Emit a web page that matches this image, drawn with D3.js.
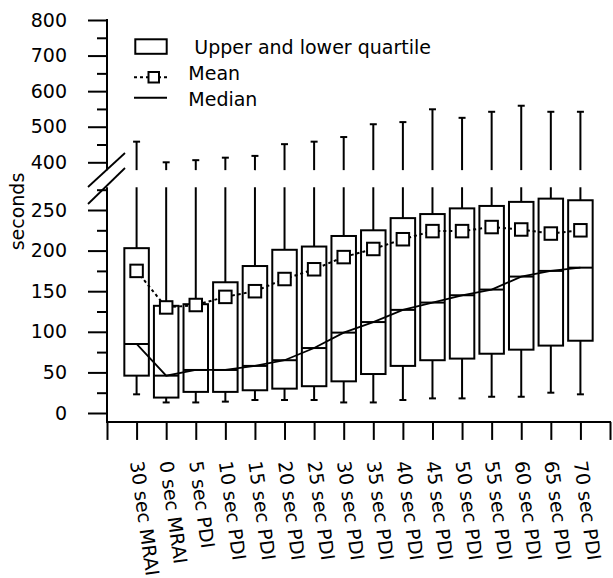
<!DOCTYPE html>
<html>
<head>
<meta charset="utf-8">
<script src="https://cdn.jsdelivr.net/npm/d3@7"></script>
<style>
  body { margin: 0; background: #fff; }
  text { font-family: "DejaVu Sans", sans-serif; font-size: 19px; fill: #000; }
</style>
</head>
<body>
<svg id="chart" width="613" height="578"></svg>
<script>
// Convergence time per configuration (seconds)
const categories = [
  "30 sec MRAI", "0 sec MRAI", "5 sec PDI", "10 sec PDI", "15 sec PDI", "20 sec PDI",
  "25 sec PDI", "30 sec PDI", "35 sec PDI", "40 sec PDI", "45 sec PDI", "50 sec PDI",
  "55 sec PDI", "60 sec PDI", "65 sec PDI", "70 sec PDI"
];
const upperQuartile = [203, 132, 134, 161, 181, 201, 205, 218, 225, 240, 245, 252, 255, 260, 264, 262];
const lowerQuartile = [46, 19, 26, 26, 28, 30, 33, 39, 48, 58, 65, 67, 73, 78, 83, 89];
const medians       = [85, 46, 53, 53, 58, 65, 80, 99, 112, 127, 136, 145, 152, 168, 175, 179];
const means         = [175, 130, 133, 143, 150, 165, 177, 192, 202, 214, 224, 224, 229, 226, 221, 225];
const whiskerLow    = [23, 13, 13, 14, 16, 16, 16, 13, 13, 16, 18, 18, 20, 20, 25, 23];
const whiskerHigh   = [458, 400, 406, 413, 418, 451, 458, 471, 507, 513, 549, 525, 542, 559, 542, 542];

const lowerTicks = [0, 50, 100, 150, 200, 250];
const lowerMinorTicks = [25, 75, 125, 175, 225, 275];
const upperTicks = [400, 500, 600, 700, 800];
const upperMinorTicks = [450, 550, 650, 750];

const legendItems = [" Upper and lower quartile", "Mean", "Median"];

// Broken y axis: a lower panel for 0..~278 s and an upper panel for ~378..800 s
const lowerPanelTop = 278;
const upperPanelBottom = 378;
const axisFloor = -11;

const svg = d3.select("#chart");
const x = d3.scaleLinear().domain([0, categories.length + 1]).range([107, 610]);
const yLow = d3.scaleLinear().domain([0, 250]).range([413, 210]);
const yHigh = d3.scaleLinear().domain([400, 800]).range([162.3, 20]);

const axisX = x(0);
const baseY = yLow(axisFloor);
const boxW = 24.5;
const capW = 7;
const sq = 12.5;

const line = (g, x1, y1, x2, y2, w = 2) =>
  g.append("line").attr("x1", x1).attr("y1", y1).attr("x2", x2).attr("y2", y2)
    .attr("stroke", "#000").attr("stroke-width", w);

// ---- y axes ----
function yAxis(scale, major, minor) {
  const g = svg.append("g").attr("transform", `translate(${axisX},0)`);
  g.call(d3.axisLeft(scale).tickValues(major).tickSize(19).tickPadding(21))
    .call(s => s.select(".domain").remove());
  g.selectAll(".tick line").attr("stroke-width", 2);
  g.selectAll(".tick text").attr("font-size", 19).attr("font-family", "DejaVu Sans, sans-serif");
  const m = svg.append("g").attr("transform", `translate(${axisX},0)`);
  m.call(d3.axisLeft(scale).tickValues(minor).tickSize(10).tickFormat(""))
    .call(s => s.select(".domain").remove());
  m.selectAll(".tick line").attr("stroke-width", 2);
}
yAxis(yLow, lowerTicks, lowerMinorTicks);
yAxis(yHigh, upperTicks, upperMinorTicks);
line(svg, axisX, yHigh(800) - 1, axisX, yHigh(upperPanelBottom));
line(svg, axisX, yLow(lowerPanelTop), axisX, baseY + 1);

// axis break marks
line(svg, 88, 187, 125, 153, 1.8);
line(svg, 88, 204, 125, 168, 1.8);

svg.append("text")
  .attr("transform", `translate(24,211.5) rotate(-90)`)
  .attr("text-anchor", "middle")
  .text("seconds");

// ---- x axis ----
const xg = svg.append("g").attr("transform", `translate(0,${baseY})`);
xg.call(d3.axisBottom(x).tickValues(d3.range(0, categories.length + 2)).tickSize(18).tickFormat(""))
  .call(s => s.select(".domain").remove());
xg.selectAll(".tick line").attr("stroke-width", 2);
line(svg, axisX - 1, baseY, x(categories.length + 1) + 1, baseY);

svg.append("g").selectAll("text").data(categories).join("text")
  .attr("transform", (d, i) => `translate(${x(i + 1)},461) rotate(82)`)
  .attr("dy", "0.35em")
  .attr("text-anchor", "start")
  .text(d => d);

// ---- boxes and whiskers ----
const boxes = svg.append("g");
categories.forEach((c, i) => {
  const cx = x(i + 1);
  // upper whisker, split across the break
  line(boxes, cx, yLow(upperQuartile[i]), cx, yLow(Math.min(whiskerHigh[i], lowerPanelTop)));
  if (whiskerHigh[i] > upperPanelBottom) {
    line(boxes, cx, yHigh(upperPanelBottom), cx, yHigh(whiskerHigh[i]));
    line(boxes, cx - capW / 2, yHigh(whiskerHigh[i]), cx + capW / 2, yHigh(whiskerHigh[i]));
  }
  // lower whisker
  line(boxes, cx, yLow(lowerQuartile[i]), cx, yLow(whiskerLow[i]));
  line(boxes, cx - capW / 2, yLow(whiskerLow[i]), cx + capW / 2, yLow(whiskerLow[i]));
  // quartile box
  boxes.append("rect")
    .attr("x", cx - boxW / 2).attr("y", yLow(upperQuartile[i]))
    .attr("width", boxW).attr("height", yLow(lowerQuartile[i]) - yLow(upperQuartile[i]))
    .attr("fill", "none").attr("stroke", "#000").attr("stroke-width", 2);
  // median tick inside box
  line(boxes, cx - boxW / 2, yLow(medians[i]), cx + boxW / 2, yLow(medians[i]));
});

// median line
svg.append("path")
  .datum(medians)
  .attr("d", d3.line().x((d, i) => x(i + 1)).y(d => yLow(d)))
  .attr("fill", "none").attr("stroke", "#000").attr("stroke-width", 1.8);

// mean line and markers
svg.append("path")
  .datum(means)
  .attr("d", d3.line().x((d, i) => x(i + 1)).y(d => yLow(d)))
  .attr("fill", "none").attr("stroke", "#000").attr("stroke-width", 2)
  .attr("stroke-dasharray", "3,3");
svg.append("g").selectAll("rect").data(means).join("rect")
  .attr("x", (d, i) => x(i + 1) - sq / 2).attr("y", d => yLow(d) - sq / 2)
  .attr("width", sq).attr("height", sq)
  .attr("fill", "#fff").attr("stroke", "#000").attr("stroke-width", 2);

// ---- legend ----
const lg = svg.append("g");
lg.append("rect").attr("x", 135.3).attr("y", 39.3).attr("width", 31.4).attr("height", 14.5)
  .attr("fill", "none").attr("stroke", "#000").attr("stroke-width", 2);
line(lg, 134, 77.3, 167, 77.3, 2).attr("stroke-dasharray", "3,3");
lg.append("rect").attr("x", 148.5).attr("y", 72).attr("width", 10.5).attr("height", 10.5)
  .attr("fill", "#fff").attr("stroke", "#000").attr("stroke-width", 2);
line(lg, 134, 97.7, 167, 97.7, 2);
lg.selectAll("text.lab").data(legendItems).join("text")
  .attr("class", "lab")
  .attr("x", 188.3)
  .attr("y", (d, i) => [53.5, 80, 106][i])
  .attr("xml:space", "preserve")
  .style("white-space", "pre")
  .text(d => d);
</script>
</body>
</html>
